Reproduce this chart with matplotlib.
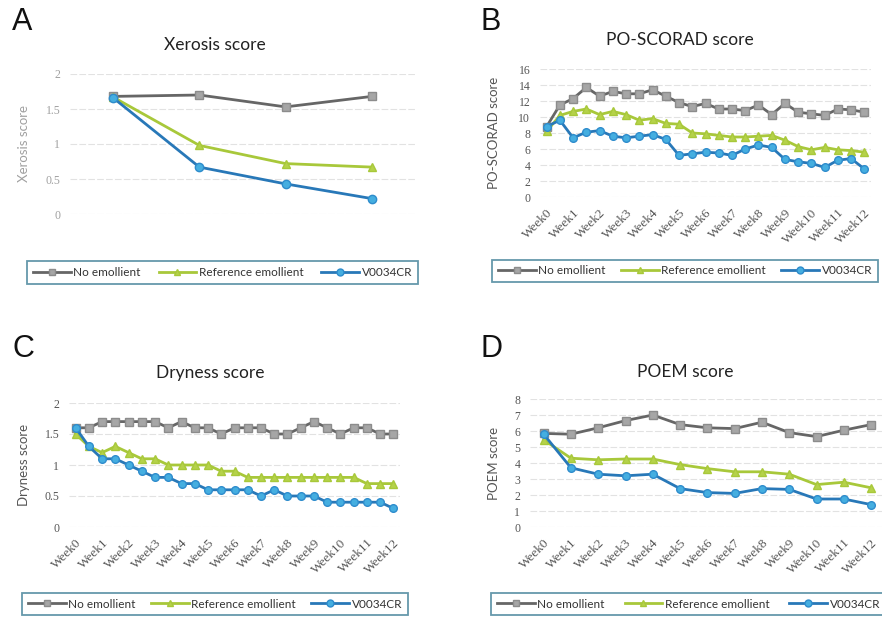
import matplotlib
matplotlib.use("Agg")
import matplotlib.pyplot as plt
from matplotlib.lines import Line2D

plt.rcParams['font.family'] = ['Lato', 'DejaVu Sans']

# ---- data ----
series_names = ['No emollient', 'Reference emollient', 'V0034CR']

# A: xerosis, 4 visits (no category labels shown)
xerosis_none = [1.68, 1.70, 1.53, 1.68]
xerosis_ref = [1.67, 0.98, 0.72, 0.67]
xerosis_v34 = [1.66, 0.67, 0.43, 0.22]

# B: PO-SCORAD, half-week steps
scorad_none = [8.8, 11.5, 12.3, 13.7, 12.6, 13.2, 12.9, 12.9, 13.4, 12.6, 11.8, 11.3, 11.7,
               11.0, 11.0, 10.8, 11.5, 10.3, 11.7, 10.6, 10.4, 10.2, 11.0, 10.9, 10.6]
scorad_ref = [8.2, 10.2, 10.7, 11.0, 10.3, 10.7, 10.3, 9.6, 9.8, 9.2, 9.1, 8.0, 7.9,
              7.7, 7.5, 7.5, 7.6, 7.7, 7.1, 6.3, 5.9, 6.2, 5.9, 5.8, 5.6]
scorad_v34 = [8.8, 9.6, 7.4, 8.1, 8.3, 7.6, 7.4, 7.6, 7.8, 7.2, 5.2, 5.4, 5.6,
              5.5, 5.2, 6.0, 6.5, 6.2, 4.7, 4.4, 4.2, 3.7, 4.6, 4.8, 3.5]

# C: dryness, half-week steps
dry_none = [1.6, 1.6, 1.7, 1.7, 1.7, 1.7, 1.7, 1.6, 1.7, 1.6, 1.6, 1.5, 1.6,
            1.6, 1.6, 1.5, 1.5, 1.6, 1.7, 1.6, 1.5, 1.6, 1.6, 1.5, 1.5]
dry_ref = [1.5, 1.3, 1.2, 1.3, 1.2, 1.1, 1.1, 1.0, 1.0, 1.0, 1.0, 0.9, 0.9,
           0.8, 0.8, 0.8, 0.8, 0.8, 0.8, 0.8, 0.8, 0.8, 0.7, 0.7, 0.7]
dry_v34 = [1.6, 1.3, 1.1, 1.1, 1.0, 0.9, 0.8, 0.8, 0.7, 0.7, 0.6, 0.6, 0.6,
           0.6, 0.5, 0.6, 0.5, 0.5, 0.5, 0.4, 0.4, 0.4, 0.4, 0.4, 0.3]

# D: POEM, weekly
poem_none = [5.85, 5.8, 6.2, 6.65, 7.0, 6.4, 6.2, 6.15, 6.55, 5.9, 5.65, 6.05, 6.4]
poem_ref = [5.45, 4.3, 4.2, 4.25, 4.25, 3.9, 3.65, 3.45, 3.45, 3.3, 2.65, 2.8, 2.45]
poem_v34 = [5.8, 3.7, 3.3, 3.2, 3.3, 2.4, 2.15, 2.1, 2.4, 2.35, 1.75, 1.75, 1.4]

week_labels = ['Week%d' % i for i in range(13)]

# ---- styling ----
W, H = 882, 620
styles = [
    dict(color='#666666', marker='s', markerfacecolor='#a6a6a6', markeredgecolor='#8c8c8c'),
    dict(color='#a8c83a', marker='^', markerfacecolor='#b5d24a', markeredgecolor='#a8c83a'),
    dict(color='#2878b8', marker='o', markerfacecolor='#45aee0', markeredgecolor='#2e8ccc'),
]


def px_axes(fig, left, top, right, bottom):
    return fig.add_axes([left / W, 1 - bottom / H, (right - left) / W, (bottom - top) / H])


def draw_panel(fig, box, series, ylim, yticks, ytick_fmt, ylabel, title, title_xy,
               letter, letter_xy, legend_box, xticks=None, xticklabels=None,
               xlim=None, ylabel_x=None, tick_color='#555555', ms=5.5):
    left, top, right, bottom = box
    ax = px_axes(fig, left, top, right, bottom)
    for vals, st in zip(series, styles):
        ax.plot(range(len(vals)), vals, linewidth=2.0, markersize=ms, **st)
    ax.set_ylim(*ylim)
    ax.set_yticks(yticks)
    ax.set_yticklabels([ytick_fmt(v) for v in yticks], fontsize=8.5, color=tick_color,
                       family=['Liberation Serif', 'DejaVu Serif'])
    n = len(series[0])
    ax.set_xlim(*(xlim if xlim else (-0.5, n - 0.5)))
    if xticks is None:
        ax.set_xticks([])
    else:
        ax.set_xticks(xticks)
        ax.set_xticklabels(xticklabels, rotation=45, ha='right', rotation_mode='anchor',
                           fontsize=9.5, color=tick_color,
                           family=['Liberation Serif', 'DejaVu Serif'])
    ax.tick_params(axis='both', length=0, pad=7)
    for s in ax.spines.values():
        s.set_visible(False)
    ax.yaxis.grid(True, color='#e2e2e2', linewidth=0.8, linestyle=(0, (6, 2)))
    ax.set_axisbelow(True)
    ax.set_ylabel(ylabel, fontsize=9.5, color=tick_color)
    if ylabel_x is not None:
        ax.yaxis.set_label_coords((ylabel_x - left) / (right - left), 0.5)
    fig.text(title_xy[0] / W, 1 - title_xy[1] / H, title, fontsize=12.5,
             ha='center', va='center', color='#222222')
    fig.text(letter_xy[0] / W, 1 - letter_xy[1] / H, letter, fontsize=22,
             ha='left', va='center', color='#111111', family=['Liberation Sans', 'DejaVu Sans'])

    handles = [Line2D([], [], linewidth=2.0, markersize=5, **st) for st in styles]
    l, t, r, b = legend_box
    leg = fig.legend(handles, series_names, loc='center', ncol=3,
                     bbox_to_anchor=(l / W, 1 - b / H, (r - l) / W, (b - t) / H),
                     mode='expand', fontsize=8.5, handlelength=3.2, handletextpad=0.2,
                     frameon=True, fancybox=False, borderaxespad=0, borderpad=0.5,
                     labelcolor='#333333')
    leg.get_frame().set_edgecolor('#3f7f96')
    leg.get_frame().set_linewidth(1.3)
    return ax


fig = plt.figure(figsize=(W / 100, H / 100), dpi=100)
fig.patch.set_facecolor('white')

# A
draw_panel(fig, (70, 74, 415, 214), [xerosis_none, xerosis_ref, xerosis_v34],
           (0, 2), [0, 0.5, 1, 1.5, 2], lambda v: ('%g' % v),
           'Xerosis score', 'Xerosis score', (215, 45), 'A', (12, 22),
           (27, 260, 418, 285), ylabel_x=30, tick_color='#a0a0a0', ms=6)

# B
half_ticks = list(range(0, 25, 2))
draw_panel(fig, (540, 69, 871, 197), [scorad_none, scorad_ref, scorad_v34],
           (0, 16), list(range(0, 17, 2)), lambda v: '%d' % v,
           'PO-SCORAD score', 'PO-SCORAD score', (680, 40), 'B', (480, 22),
           (492, 257, 878, 285), xticks=half_ticks, xticklabels=week_labels,
           ylabel_x=500)

# C
draw_panel(fig, (69, 403, 400, 527), [dry_none, dry_ref, dry_v34],
           (0, 2), [0, 0.5, 1, 1.5, 2], lambda v: ('%g' % v),
           'Dryness score', 'Dryness score', (210, 373), 'C', (12, 349),
           (22, 592, 408, 616), xticks=half_ticks, xticklabels=week_labels,
           ylabel_x=30)

# D
draw_panel(fig, (530, 399, 882, 527), [poem_none, poem_ref, poem_v34],
           (0, 8), list(range(0, 9)), lambda v: '%d' % v,
           'POEM score', 'POEM score', (685, 372), 'D', (480, 349),
           (491, 592, 886, 616), xticks=list(range(13)), xticklabels=week_labels,
           xlim=(-0.5, 12.4), ylabel_x=500)

fig.savefig('out.png', dpi=100)
